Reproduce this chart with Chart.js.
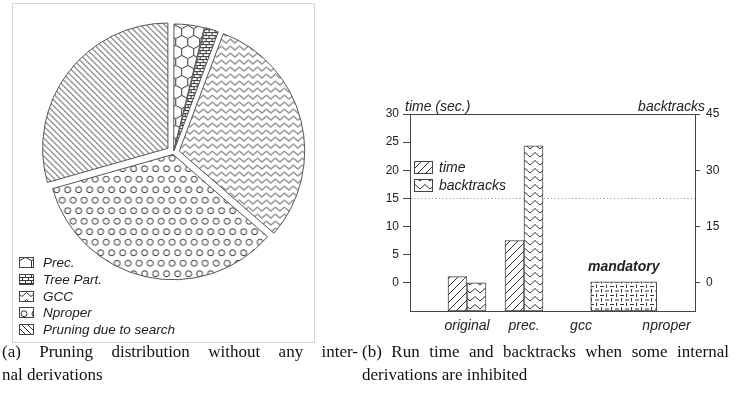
<!DOCTYPE html>
<html>
<head>
<meta charset="utf-8">
<script src="https://cdn.jsdelivr.net/npm/chart.js@4.4.1/dist/chart.umd.min.js"></script>
<style>
  body { margin: 0; width: 738px; height: 400px; background: #fff; position: relative; overflow: hidden; }
  #pieBox { position: absolute; left: 12px; top: 3px; width: 303px; height: 340px; border: 1px solid #d6d6d6; box-sizing: border-box; }
  #pie { position: absolute; left: 13px; top: 4px; }
  #bars, #groups { position: absolute; left: 360px; top: 95px; }
  .cap { position: absolute; font-family: "Liberation Serif", "Times New Roman", serif; font-size: 17px; line-height: 22px; color: #111; white-space: nowrap; }
  .just { text-align: justify; text-align-last: justify; white-space: normal; }
</style>
</head>
<body>
<div id="pieBox"></div>
<canvas id="pie" width="301" height="338"></canvas>
<canvas id="bars" width="378" height="245"></canvas>
<canvas id="groups" width="378" height="245"></canvas>

<div class="cap just" style="left:2px; top:341px; width:356px;">(a) Pruning distribution without any inter-</div>
<div class="cap" style="left:2px; top:364px;">nal derivations</div>
<div class="cap just" style="left:362px; top:341px; width:367px;">(b) Run time and backtracks when some internal</div>
<div class="cap" style="left:362px; top:364px;">derivations are inhibited</div>

<script>
// ---- data (a): pruning distribution, share in percent
const pieLabels = ['Prec.', 'Tree Part.', 'GCC', 'Nproper', 'Pruning due to search'];
const pieShares = [3.9, 1.8, 30.7, 34.2, 29.4];

// ---- data (b): run time / backtracks
const tickLabels = ['', '', 'original', '', 'prec.', '', 'gcc', '', '', 'nproper', ''];
const timeSec    = [null, null, 1.1, null, 7.5, null, null, null, null, null, null];
const backtracks = [null, null, 0, null, 36.5, null, null, null, null, null, null];
// gcc + nproper inhibited together
const groupLabels   = ['', '', '', 'mandatory', ''];
const mandatoryTime = [null, null, null, 0.2, null];
const timeTicks = [0, 5, 10, 15, 20, 25, 30];
const backtrackTicks = [0, 15, 30, 45];
const axisTitles = ['time (sec.)', 'backtracks'];
const refLine = 15;

Chart.defaults.font.family = '"Liberation Sans", Arial, Helvetica, sans-serif';
Chart.defaults.color = '#222';

// hatch patterns, drawn on small tiles
function tile(w, h, draw) {
  const c = document.createElement('canvas');
  c.width = w; c.height = h;
  const g = c.getContext('2d');
  g.fillStyle = '#fff';
  g.fillRect(0, 0, w, h);
  g.strokeStyle = '#333';
  g.lineWidth = 1;
  [-w, 0, w].forEach(dx => [-h, 0, h].forEach(dy => {
    g.save();
    g.translate(dx, dy);
    g.beginPath();
    draw(g, w, h);
    g.stroke();
    g.restore();
  }));
  return g.createPattern(c, 'repeat');
}

const fills = {
  hex: tile(12, 20, (g, w, h) => {
    const s = h / 3, cx = w / 2 + 0.5, cy = h / 2;
    g.moveTo(cx, 0); g.lineTo(cx, cy - s);
    g.lineTo(cx + w / 2, cy - s / 2); g.lineTo(cx + w / 2, cy + s / 2);
    g.lineTo(cx, cy + s); g.lineTo(cx - w / 2, cy + s / 2);
    g.lineTo(cx - w / 2, cy - s / 2); g.lineTo(cx, cy - s);
    g.moveTo(cx, cy + s); g.lineTo(cx, h);
  }),
  brick: tile(6, 6, g => {
    g.moveTo(0, 0.5); g.lineTo(6, 0.5);
    g.moveTo(0, 3.5); g.lineTo(6, 3.5);
    g.moveTo(0.5, 0.5); g.lineTo(0.5, 3.5);
    g.moveTo(3.5, 3.5); g.lineTo(3.5, 6.5);
  }),
  zigzag: tile(9, 7, g => { g.moveTo(0, 5.5); g.lineTo(4.5, 1.5); g.lineTo(9, 5.5); }),
  rings: tile(11, 21, g => {
    g.moveTo(8.5, 5.25); g.arc(5.5, 5.25, 3, 0, 2 * Math.PI);
    g.moveTo(3, 15.75); g.arc(0, 15.75, 3, 0, 2 * Math.PI);
  }),
  backslash: tile(6, 6, g => { g.moveTo(0, 0); g.lineTo(6, 6); }),
  slash: tile(8, 8, g => { g.moveTo(0, 8); g.lineTo(8, 0); }),
  chevron: tile(10, 8, g => { g.moveTo(0, 6); g.lineTo(5, 1.5); g.lineTo(10, 6); }),
  dashes: tile(10, 9, g => {
    g.moveTo(0, 2.5); g.lineTo(4, 2.5); g.moveTo(6.5, 0.5); g.lineTo(6.5, 4);
    g.moveTo(5, 7); g.lineTo(9, 7); g.moveTo(1.5, 5); g.lineTo(1.5, 8.5);
  })
};

// legend with hatched swatches
function swatchLegend(id, getItems, L) {
  return {
    id: id,
    afterDraw(chart) {
      const ctx = chart.ctx;
      const x0 = L.x(chart), y0 = L.y(chart);
      ctx.save();
      ctx.font = L.font;
      ctx.textBaseline = 'middle';
      ctx.textAlign = 'left';
      getItems(chart).forEach((it, i) => {
        const y = Math.round(y0 + i * L.pitch);
        ctx.fillStyle = it.fill;
        ctx.fillRect(x0, y - L.boxH / 2, L.boxW, L.boxH);
        ctx.strokeStyle = '#444';
        ctx.lineWidth = 1;
        ctx.strokeRect(x0 + 0.5, y - L.boxH / 2 + 0.5, L.boxW, L.boxH);
        ctx.fillStyle = '#222';
        ctx.fillText(it.text, x0 + L.boxW + L.gap, y + 1);
      });
      ctx.restore();
    }
  };
}

// (a) pie
new Chart(document.getElementById('pie'), {
  type: 'pie',
  data: {
    labels: pieLabels,
    datasets: [{
      data: pieShares,
      backgroundColor: [fills.hex, fills.brick, fills.zigzag, fills.rings, fills.backslash],
      borderColor: '#555',
      borderWidth: 1,
      offset: [8, 8, 24, 8, 28]
    }]
  },
  options: {
    responsive: false,
    animation: false,
    events: [],
    layout: { padding: { left: 21, right: 1, top: 9, bottom: 50 } },
    plugins: { legend: { display: false }, tooltip: { enabled: false } }
  },
  plugins: [swatchLegend('pieLegend',
    c => c.data.labels.map((t, i) => ({ text: t, fill: c.data.datasets[0].backgroundColor[i] })),
    { x: () => 6, y: () => 258, pitch: 16.8, boxW: 14, boxH: 10, gap: 10,
      font: 'italic 13.5px "Liberation Sans", Arial, sans-serif' })]
});

// (b) bars
const yMin = -5, yMax = 30, y2Min = -7.5, y2Max = 45;
// axis sizes shared by both layers so the plot areas coincide
const frame = { left: 50, right: 43, top: 19, bottom: 29 };

const axisTitlePlugin = {
  id: 'axisTitles',
  afterDraw(chart) {
    const { ctx, chartArea, scales } = chart;
    ctx.save();
    ctx.fillStyle = '#222';
    ctx.textBaseline = 'middle';
    ctx.font = 'italic 14px "Liberation Sans", Arial, sans-serif';
    ctx.textAlign = 'left';
    ctx.fillText(axisTitles[0], scales.y.right - 5, chartArea.top - 7);
    ctx.textAlign = 'right';
    ctx.fillText(axisTitles[1], scales.y2.left + 10, chartArea.top - 7);
    ctx.restore();
  }
};

new Chart(document.getElementById('bars'), {
  type: 'bar',
  data: {
    labels: tickLabels,
    datasets: [
      { label: 'time', data: timeSec, yAxisID: 'y', base: yMin,
        backgroundColor: fills.slash, borderColor: '#444', borderWidth: 1, borderSkipped: false, barThickness: 19 },
      { label: 'backtracks', data: backtracks, yAxisID: 'y2', base: y2Min,
        backgroundColor: fills.chevron, borderColor: '#444', borderWidth: 1, borderSkipped: false, barThickness: 19 }
    ]
  },
  options: {
    responsive: false,
    animation: false,
    events: [],
    layout: { padding: 0 },
    plugins: { legend: { display: false }, tooltip: { enabled: false } },
    scales: {
      x: {
        type: 'category', offset: false,
        grid: { display: false, drawTicks: false },
        border: { color: '#444' },
        ticks: { autoSkip: false, maxRotation: 0, padding: 7, color: '#222',
                 font: { size: 14, style: 'italic' } },
        afterFit: s => { s.height = frame.bottom; }
      },
      top: {
        type: 'category', axis: 'x', position: 'top', offset: false,
        grid: { display: false, drawTicks: false },
        border: { color: '#444' },
        ticks: { display: false },
        afterFit: s => { s.height = frame.top; }
      },
      y: {
        position: 'left', min: yMin, max: yMax,
        afterBuildTicks: s => { s.ticks = timeTicks.map(v => ({ value: v })); },
        grid: {
          color: c => (c.tick && c.tick.value === refLine ? '#8a8a8a' : 'rgba(0,0,0,0)'),
          tickColor: '#444', tickLength: 7, lineWidth: 1
        },
        border: { color: '#444', dash: [1, 2.5] },
        ticks: { padding: 4, color: '#222', font: { size: 12 } },
        afterFit: s => { s.width = frame.left; }
      },
      y2: {
        position: 'right', min: y2Min, max: y2Max,
        afterBuildTicks: s => { s.ticks = backtrackTicks.map(v => ({ value: v })); },
        grid: { drawOnChartArea: false, tickColor: '#444', tickLength: 5 },
        border: { color: '#444' },
        ticks: { padding: 6, color: '#222', font: { size: 12 } },
        afterFit: s => { s.width = frame.right; }
      }
    }
  },
  plugins: [axisTitlePlugin, swatchLegend('barLegend',
    c => c.data.datasets.map(d => ({ text: d.label, fill: d.backgroundColor })),
    { x: c => c.chartArea.left + 4, y: c => c.chartArea.top + 53, pitch: 18, boxW: 18, boxH: 12, gap: 7,
      font: 'italic 14px "Liberation Sans", Arial, sans-serif' })]
});

// second layer on the same plot area: the bar spanning gcc and nproper
const groupLabelPlugin = {
  id: 'groupLabel',
  afterDatasetsDraw(chart) {
    const ctx = chart.ctx;
    ctx.save();
    ctx.fillStyle = '#222';
    ctx.font = 'italic bold 14px "Liberation Sans", Arial, sans-serif';
    ctx.textAlign = 'center';
    ctx.textBaseline = 'middle';
    chart.getDatasetMeta(0).data.forEach((bar, i) => {
      if (mandatoryTime[i] == null) return;
      ctx.fillText(groupLabels[i], bar.x, bar.y - 15);
    });
    ctx.restore();
  }
};

new Chart(document.getElementById('groups'), {
  type: 'bar',
  data: {
    labels: groupLabels,
    datasets: [
      { label: 'mandatory', data: mandatoryTime, base: yMin,
        backgroundColor: fills.dashes, borderColor: '#444', borderWidth: 1, borderSkipped: false, barThickness: 66 }
    ]
  },
  options: {
    responsive: false,
    animation: false,
    events: [],
    layout: { padding: frame },
    plugins: { legend: { display: false }, tooltip: { enabled: false } },
    scales: {
      x: { type: 'category', offset: false, display: false },
      y: { min: yMin, max: yMax, display: false }
    }
  },
  plugins: [groupLabelPlugin]
});
</script>
</body>
</html>
